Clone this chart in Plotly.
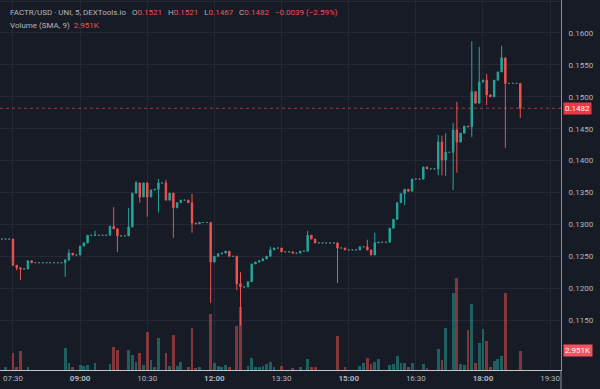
import plotly.graph_objects as go
from datetime import datetime, timedelta

# ---------------- data ----------------
first_bar = datetime(2024, 5, 10, 7, 15)   # first visible 5-minute bar
bar_minutes = 5

# closing prices, one per 5-minute bar (open = previous close)
close = [
    0.1277, 0.1277, 0.1277,                                   # 07:15-07:25
    0.1236, 0.1232, 0.1230, 0.1230, 0.1243, 0.1240,
    0.1240, 0.1240, 0.1240, 0.1240, 0.1240, 0.1240, 0.1240, 0.1240,
    0.1244, 0.1255, 0.1252, 0.1252, 0.1266, 0.1271, 0.1283, 0.1283,
    0.1283, 0.1283, 0.1283, 0.1283, 0.1297, 0.1293, 0.1282, 0.1282,
    0.1282, 0.1296, 0.1349, 0.1365, 0.1343, 0.1365, 0.1343, 0.1354,
    0.1355, 0.1365, 0.1365, 0.1338, 0.1349, 0.1326, 0.1334, 0.1338,
    0.1338, 0.1334, 0.1302, 0.1301, 0.1303, 0.1303, 0.1303, 0.1241,
    0.1250, 0.1254, 0.1255, 0.1258, 0.1250, 0.1250, 0.1207, 0.1202,
    0.1202, 0.1210, 0.1238, 0.1241, 0.1243, 0.1246, 0.1250, 0.1260,
    0.1263, 0.1263, 0.1257, 0.1257, 0.1257, 0.1255, 0.1255, 0.1258,
    0.1258, 0.1283, 0.1277, 0.1271, 0.1271, 0.1271, 0.1271, 0.1271,
    0.1271, 0.1263, 0.1263, 0.1260, 0.1260, 0.1260, 0.1260, 0.1265,
    0.1265, 0.1260, 0.1252, 0.1271, 0.1272, 0.1272, 0.1272, 0.1294,
    0.1308, 0.1334, 0.1348, 0.1355, 0.1352, 0.1371, 0.1371, 0.1371,
    0.1390, 0.1387, 0.1387, 0.1387, 0.1429, 0.1401, 0.1413, 0.1413,
    0.1448, 0.1429, 0.1443, 0.1454, 0.1453, 0.1508, 0.1490, 0.1523,
    0.1526, 0.1503, 0.1500, 0.1526, 0.1539, 0.1561, 0.1521, 0.1521,
    0.1521, 0.1521, 0.1482,
]

# wicks that stick out of the bodies: bar number (0 = 07:30) -> price
wick_high = {0: 0.1277, 14: 0.1246, 15: 0.1261, 22: 0.1290, 27: 0.1327,
             31: 0.1326, 33: 0.1368, 39: 0.1371, 41: 0.1370, 48: 0.1348,
             61: 0.1225, 69: 0.1265, 79: 0.1290, 95: 0.1276, 97: 0.1287,
             114: 0.1440, 115: 0.1439, 116: 0.1443, 118: 0.1459, 119: 0.1492,
             123: 0.1587, 125: 0.1578, 127: 0.1536, 131: 0.1580, 136: 0.1521}
wick_low = {0: 0.1235, 1: 0.1228, 2: 0.1213, 14: 0.1218, 28: 0.1257,
            34: 0.1334, 36: 0.1312, 39: 0.1319, 43: 0.1279, 48: 0.1287,
            53: 0.1177, 60: 0.1197, 61: 0.1142, 87: 0.1208, 105: 0.1330,
            114: 0.1377, 115: 0.1377, 116: 0.1376, 118: 0.1354, 119: 0.1381,
            123: 0.1437, 127: 0.1487, 132: 0.1420, 136: 0.1467}

# traded volume (thousands) per bar number; bars not listed had no trades
volume_k = {-2: 0.4, 0: 2.6, 1: 0.4, 2: 2.95, 4: 0.5, 14: 3.4, 15: 1.1,
            16: 0.4, 18: 0.8, 19: 0.6, 20: 0.7, 22: 1.1, 26: 1.0, 27: 3.6,
            28: 3.1, 31: 3.1, 32: 2.3, 33: 1.2, 34: 2.6, 35: 0.8, 36: 5.9,
            37: 1.6, 38: 0.5, 39: 5.0, 41: 2.6, 42: 0.6, 43: 5.4, 44: 0.6,
            45: 1.2, 47: 0.5, 48: 6.5, 49: 0.3, 50: 0.4, 53: 8.7, 54: 1.1,
            55: 0.6, 56: 0.4, 57: 0.7, 58: 0.5, 60: 6.8, 61: 9.8, 63: 0.6,
            64: 1.9, 65: 0.5, 66: 0.4, 67: 0.6, 68: 0.9, 69: 1.2, 70: 0.4,
            72: 0.6, 75: 0.3, 77: 0.5, 79: 1.7, 80: 0.5, 81: 0.4, 87: 5.3,
            89: 0.4, 93: 0.6, 94: 1.1, 95: 1.9, 96: 1.0, 97: 1.2, 98: 1.7,
            101: 0.8, 102: 1.0, 103: 2.2, 104: 1.1, 105: 1.1, 106: 0.4,
            107: 1.1, 110: 0.9, 111: 0.3, 114: 3.3, 115: 1.6, 116: 6.5,
            118: 12.0, 119: 14.3, 120: 1.0, 121: 0.8, 122: 6.2, 123: 10.2,
            124: 1.1, 125: 4.2, 126: 6.4, 127: 4.5, 128: 0.5, 129: 1.4,
            130: 1.7, 131: 2.2, 132: 12.0, 136: 2.951}

price_ticks = [0.1150, 0.1200, 0.1250, 0.1300, 0.1350, 0.1400,
               0.1450, 0.1500, 0.1550, 0.1600, 0.1650]
price_tick_text = ["0.1150", "0.1200", "0.1250", "0.1300", "0.1350",
                   "0.1400", "0.1450", "0.1500", "0.1550", "0.1600", ""]
time_ticks = ["07:30", "09:00", "10:30", "12:00", "13:30",
              "15:00", "16:30", "18:00", "19:30"]
bold_ticks = ["09:00", "12:00", "15:00", "18:00"]

legend_title = "FACTR/USD · UNI, 5, DEXTools.io"
legend_ohlc = [("O", "0.1521"), ("H", "0.1521"), ("L", "0.1467"), ("C", "0.1482")]
legend_change = "−0.0039 (−2.59%)"
volume_title = "Volume (SMA, 9)"
last_price_text = "0.1482"
last_volume_text = "2.951K"
last_price = 0.1482
last_volume = 2951

# ---------------- build the traces ----------------
UP = "#26a69a"
DOWN = "#ef5350"
FLAT = "#4a8a84"
BG = "#171b26"
GRID = "#242836"
TXT = "#b2b5be"
FONT = "Roboto"

n = len(close)
offset = 3  # bars before 07:30
times = [first_bar + timedelta(minutes=bar_minutes * k) for k in range(n)]
opens = [close[0]] + close[:-1]
highs, lows, vols, vcols = [], [], [], []
for k in range(n):
    i = k - offset
    o, c = opens[k], close[k]
    highs.append(max(wick_high.get(i, o), o, c))
    lows.append(min(wick_low.get(i, o), o, c))
    vols.append(volume_k.get(i, 0) * 1000)
    vcols.append("rgba(38,166,154,0.5)" if c >= o else "rgba(239,83,80,0.5)")

is_flat = [opens[k] == close[k] and highs[k] == lows[k] for k in range(n)]


def pick(seq, flat):
    return [v for v, f in zip(seq, is_flat) if f == flat]


fig = go.Figure()
fig.add_trace(go.Bar(
    x=times, y=vols, marker=dict(color=vcols, line=dict(width=0)),
    width=bar_minutes * 60000 * 0.75, yaxis="y", xaxis="x", hoverinfo="skip",
))
# bars with no trades: flat dashes
fig.add_trace(go.Candlestick(
    x=pick(times, True), open=pick(opens, True), high=pick(highs, True),
    low=pick(lows, True), close=pick(close, True),
    increasing=dict(line=dict(color=FLAT, width=1), fillcolor=FLAT),
    decreasing=dict(line=dict(color=FLAT, width=1), fillcolor=FLAT),
    whiskerwidth=0, yaxis="y2", xaxis="x",
))
fig.add_trace(go.Candlestick(
    x=pick(times, False), open=pick(opens, False), high=pick(highs, False),
    low=pick(lows, False), close=pick(close, False),
    increasing=dict(line=dict(color=UP, width=1), fillcolor=UP),
    decreasing=dict(line=dict(color=DOWN, width=1), fillcolor=DOWN),
    whiskerwidth=0, yaxis="y2", xaxis="x",
))

t730 = datetime(2024, 5, 10, 7, 30)
tick_dates = [t730 + timedelta(minutes=90 * j) for j in range(len(time_ticks))]
tick_text = [f"<b>{t}</b>" if t in bold_ticks else t for t in time_ticks]

x_start = t730 - timedelta(minutes=17.4)
x_end = t730 + timedelta(minutes=734.6)

fig.update_layout(
    width=600, height=389,
    margin=dict(l=0, r=39, t=0, b=19),
    paper_bgcolor=BG, plot_bgcolor=BG,
    showlegend=False, bargap=0, boxgap=0.45,
    font=dict(family=FONT, size=8, color=TXT),
    xaxis=dict(
        type="date", range=[x_start, x_end], rangeslider=dict(visible=False),
        tickvals=tick_dates, ticktext=tick_text, showgrid=True, gridcolor=GRID,
        gridwidth=1, showline=True, linecolor="#c3c5cc", linewidth=1,
        ticks="", zeroline=False, tickfont=dict(size=8, color=TXT),
    ),
    yaxis=dict(range=[0, 57450], visible=False, fixedrange=True),
    yaxis2=dict(
        overlaying="y", side="right", anchor="x",
        range=[0.10718, 0.16517], tickvals=price_ticks, ticktext=price_tick_text,
        showgrid=True, gridcolor=GRID, gridwidth=1, zeroline=False,
        showline=True, linecolor="#8e919a", linewidth=1,
        ticks="outside", ticklen=5, tickcolor="rgba(0,0,0,0)",
        tickfont=dict(size=8, color=TXT),
    ),
)

# vertical separator continuing through the time-axis strip
fig.add_shape(type="line", xref="paper", yref="paper", x0=1, x1=1,
              y0=-19 / 370, y1=0, line=dict(color="#8e919a", width=1))

# last price dotted line
fig.add_shape(type="line", xref="paper", yref="y2", x0=0, x1=1,
              y0=last_price, y1=last_price,
              line=dict(color="rgba(239,83,80,0.6)", width=1, dash="dot"))

# right-axis value tags
fig.add_annotation(xref="paper", yref="y2", x=1, y=last_price, xanchor="left",
                   xshift=2, text=last_price_text, showarrow=False,
                   bgcolor="#f23645", borderpad=1,
                   font=dict(family=FONT, size=8, color="white"))
fig.add_annotation(xref="paper", yref="y", x=1, y=last_volume, xanchor="left",
                   xshift=2, text=last_volume_text, showarrow=False,
                   bgcolor="#f7525f", borderpad=1,
                   font=dict(family=FONT, size=8, color="white"))

# top-left legend lines
ohlc_html = "   ".join(f"{k}<span style='color:{DOWN}'>{v}</span>" for k, v in legend_ohlc)
line1 = f"{legend_title}   {ohlc_html}   <span style='color:{DOWN}'>{legend_change}</span>"
line2 = f"{volume_title}  <span style='color:{DOWN}'>{last_volume_text}</span>"
fig.add_annotation(xref="paper", yref="paper", x=0, y=1, xanchor="left",
                   yanchor="middle", xshift=8, yshift=-12, text=line1,
                   showarrow=False, font=dict(family=FONT, size=8, color=TXT))
fig.add_annotation(xref="paper", yref="paper", x=0, y=1, xanchor="left",
                   yanchor="middle", xshift=8, yshift=-25, text=line2,
                   showarrow=False, font=dict(family=FONT, size=8, color=TXT))

fig.write_html(
    "out.html",
    config={"displayModeBar": False},
    post_script="document.body.style.margin='0';document.body.style.background='%s';" % BG,
)
